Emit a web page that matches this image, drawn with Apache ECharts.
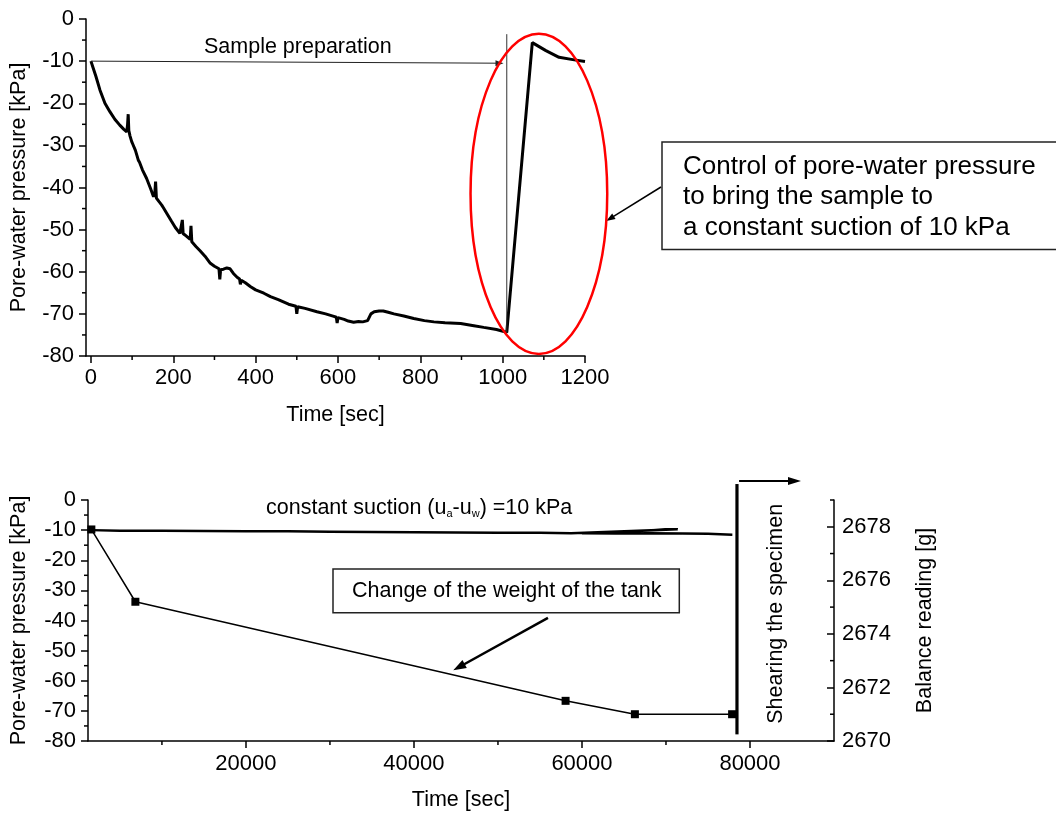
<!DOCTYPE html>
<html><head><meta charset="utf-8">
<script src="https://cdn.jsdelivr.net/npm/echarts@6/dist/echarts.min.js"></script>
<style>html,body{margin:0;padding:0;background:#fff}#c{width:1056px;height:817px}</style>
</head><body><div id="c"></div>
<script>
// ---------- data ----------
const prepTime = [0,5,12,22,34,46,58,70,80,87,
  89,90.5,92,95,99,102,105,108,112,115,
  118,125,135,145,152,155,157,159,165,172,
  176,184,195,205,216,219,222,224,229,233,
  241,243,245,255,265,277,290,300,311,313,
  315,322,330,338,346,355,361,363,365,375,
  387,400,420,436,455,480,498,500,502,520,
  549,570,590,596,598,600,615,625,638,650,
  660,672,676,680,688,700,710,722,736,760,
  784,810,833,860,898,930,954,985,1010,1072,
  1105,1137,1174,1200];
const prepPressure = [-10.0,-11.5,-13.6,-16.9,-20.0,-22.0,-23.8,-25.2,-26.2,-26.8,
  -25.0,-22.6,-26.5,-27.8,-29.1,-29.8,-29.5,-31.2,-32.5,-33.5,
  -34.0,-35.8,-37.8,-40.3,-42.2,-41.5,-38.6,-42.5,-43.3,-44.2,
  -44.8,-46.1,-47.9,-49.5,-50.9,-51.2,-47.7,-51.0,-51.3,-51.7,
  -52.3,-49.1,-52.9,-54.0,-55.0,-56.3,-58.0,-58.7,-59.3,-61.8,
  -59.5,-59.4,-59.1,-59.3,-60.4,-61.3,-61.7,-63.0,-62.0,-62.6,
  -63.5,-64.3,-65.1,-65.9,-66.6,-67.7,-68.2,-70.0,-68.3,-68.7,
  -69.5,-70.0,-70.6,-70.8,-72.2,-70.9,-71.3,-71.7,-72.0,-71.8,
  -71.9,-71.6,-71.2,-70.0,-69.5,-69.3,-69.3,-69.6,-70.0,-70.5,
  -71.1,-71.6,-71.9,-72.1,-72.3,-72.8,-73.2,-73.7,-74.4,-5.6,
  -7.5,-9.1,-9.7,-10.1];

const suctionTime = [1600,5000,10000,15000,20000,25000,30000,35000,40000,45000,
  50000,55000,58700,71400,60000,64000,68000,72000,75000,77900];
const suctionPressure = [-10.0,-10.2,-10.2,-10.3,-10.4,-10.4,-10.5,-10.6,-10.7,-10.8,
  -10.9,-10.9,-11.0,-9.7,-11.0,-11.1,-11.0,-11.1,-11.2,-11.5];

const balanceTime = [1600,6840,58050,66300,77870];
const balanceReading = [2677.9,2675.2,2671.5,2671.0,2671.0];

const topTimeTicks = [0,200,400,600,800,1000,1200];
const topTimeMinor = [100,300,500,700,900,1100];
const pressureMinor = [-75,-65,-55,-45,-35,-25,-15,-5];
const bottomTimeTicks = [20000,40000,60000,80000];
const bottomTimeMinor = [10000,30000,50000,70000];
const balanceTicks = [2670,2672,2674,2676,2678];
const balanceMinor = [2671,2673,2675,2677,2679];

// ---------- chart ----------
const FONT = "'Liberation Sans', Arial, sans-serif";
const BLK = '#000';
const zip = (a, b) => a.map((v, i) => [v, b[i]]);
const chart = echarts.init(document.getElementById('c'), null, {renderer: 'canvas'});

const lab = (extra) => Object.assign({color: BLK, fontSize: 22, fontFamily: FONT, formatter: v => String(v)}, extra);
const axLine = {show: true, onZero: false, lineStyle: {color: BLK, width: 1.5}};
const tick = (extra) => Object.assign({show: true, length: 7, lineStyle: {color: BLK, width: 1.5}}, extra);
const nameStyle = {color: BLK, fontSize: 21.5, fontFamily: FONT};

const topX = {gridIndex: 0, type: 'value', position: 'bottom', min: -12, max: 1200,
  axisLine: axLine, axisTick: tick({customValues: topTimeTicks}),
  axisLabel: lab({customValues: topTimeTicks, margin: 11}), splitLine: {show: false},
  name: 'Time [sec]', nameLocation: 'middle', nameGap: 48, nameTextStyle: nameStyle};
const topY = {gridIndex: 0, type: 'value', position: 'left', min: -80, max: 0, interval: 10,
  axisLine: axLine, axisTick: tick({}), axisLabel: lab({margin: 12}), splitLine: {show: false},
  name: 'Pore-water pressure [kPa]', nameLocation: 'middle', nameGap: 56, nameTextStyle: nameStyle};
const botX = {gridIndex: 1, type: 'value', position: 'bottom', min: 1200, max: 90000,
  axisLine: axLine, axisTick: tick({customValues: bottomTimeTicks}),
  axisLabel: lab({customValues: bottomTimeTicks, margin: 12}), splitLine: {show: false},
  name: 'Time [sec]', nameLocation: 'middle', nameGap: 48, nameTextStyle: nameStyle};
const botY = {gridIndex: 1, type: 'value', position: 'left', min: -80, max: 0, interval: 10,
  axisLine: axLine, axisTick: tick({}), axisLabel: lab({margin: 12}), splitLine: {show: false},
  name: 'Pore-water pressure [kPa]', nameLocation: 'middle', nameGap: 58, nameTextStyle: nameStyle};
const botR = {gridIndex: 1, type: 'value', position: 'right', min: 2670, max: 2679,
  axisLine: axLine, axisTick: tick({customValues: balanceTicks, inside: true}),
  axisLabel: lab({customValues: balanceTicks, margin: 8}), splitLine: {show: false},
  name: 'Balance reading [g]', nameLocation: 'middle', nameGap: 80, nameTextStyle: nameStyle};

const option = {
  animation: false,
  backgroundColor: '#fff',
  grid: [
    {left: 86, top: 19, width: 499, height: 337, containLabel: false, show: false},
    {left: 86, top: 500, width: 748, height: 241, containLabel: false, show: false}
  ],
  xAxis: [topX, botX],
  yAxis: [topY, botY, botR],
  series: [
    {type: 'line', xAxisIndex: 0, yAxisIndex: 0, data: zip(prepTime, prepPressure),
     symbol: 'none', lineStyle: {color: BLK, width: 3}, z: 5},
    {type: 'line', xAxisIndex: 1, yAxisIndex: 1, data: zip(suctionTime, suctionPressure),
     symbol: 'none', lineStyle: {color: BLK, width: 2.5}, z: 5},
    {type: 'line', xAxisIndex: 1, yAxisIndex: 2, data: zip(balanceTime, balanceReading),
     symbol: 'rect', symbolSize: 8, showSymbol: true, itemStyle: {color: BLK},
     lineStyle: {color: BLK, width: 1.5}, z: 6}
  ]
};
chart.setOption(option);

// ---------- annotations ----------
const P = (si, x, y) => chart.convertToPixel({seriesIndex: si}, [x, y]);
const g = [];
function seg(p0, p1, w, color) {
  return {type: 'line', z: 100, shape: {x1: p0[0], y1: p0[1], x2: p1[0], y2: p1[1]},
          style: {stroke: color || BLK, lineWidth: w}};
}
function head(p0, p1, len, half, color) {
  const dx = p1[0]-p0[0], dy = p1[1]-p0[1], L = Math.hypot(dx, dy);
  const ux = dx/L, uy = dy/L, nx = -uy, ny = ux;
  const bx = p1[0]-ux*len, by = p1[1]-uy*len;
  return {type: 'polygon', z: 100, shape: {points: [p1, [bx+nx*half, by+ny*half], [bx-nx*half, by-ny*half]]},
          style: {fill: color || BLK}};
}
function arrow(p0, p1, w, len, half, color) {
  const dx = p1[0]-p0[0], dy = p1[1]-p0[1], L = Math.hypot(dx, dy);
  const e = [p1[0]-dx/L*len*0.8, p1[1]-dy/L*len*0.8];
  return [seg(p0, e, w, color), head(p0, p1, len, half, color)];
}
function txt(x, y, text, size, extra) {
  return {type: 'text', z: 100, x: x, y: y,
    style: Object.assign({text: text, fill: BLK, fontSize: size, fontFamily: FONT,
      align: 'left', verticalAlign: 'middle', textAlign: 'left', textVerticalAlign: 'middle'}, (extra || {}))};
}

// minor ticks (short), placed through the axes' own scales
const TL = 4;
topTimeMinor.forEach(v => { const p = P(0, v, -80); g.push(seg([p[0], p[1]], [p[0], p[1] + TL], 1.5)); });
pressureMinor.forEach(v => { const p = P(0, -12, v); g.push(seg([p[0], p[1]], [p[0] - TL, p[1]], 1.5)); });
bottomTimeMinor.forEach(v => { const p = P(1, v, -80); g.push(seg([p[0], p[1]], [p[0], p[1] + TL], 1.5)); });
pressureMinor.forEach(v => { const p = P(1, 1200, v); g.push(seg([p[0], p[1]], [p[0] - TL, p[1]], 1.5)); });
balanceMinor.forEach(v => { const p = P(2, 90000, v); g.push(seg([p[0], p[1]], [p[0] - TL, p[1]], 1.5)); });

// top chart
const a0 = P(0, 0, -10), a1 = P(0, 1002, -10.5);
g.push(...arrow(a0, a1, 1, 8, 3, '#222'));
g.push(txt(204, 47.5, 'Sample preparation', 21.5));
g.push(seg(P(0, 1010, -3.6), P(0, 1010, -74.4), 1, '#333'));
const ec = P(0, 1088, -41.5), ex = P(0, 1088 + 166, -41.5), ey = P(0, 1088, -41.5 + 38);
const rx = ex[0] - ec[0], ry = ec[1] - ey[1];
g.push({type: 'ellipse', z: 101, shape: {cx: ec[0], cy: ec[1], rx: rx, ry: ry},
        style: {fill: 'none', stroke: '#f00', lineWidth: 2.5}});
g.push({type: 'rect', z: 100, shape: {x: 662, y: 142, width: 420, height: 107.5},
        style: {fill: 'none', stroke: '#222', lineWidth: 1.5}});
g.push(txt(683, 166.5, 'Control of pore-water pressure', 26));
g.push(txt(683, 196.5, 'to bring the sample to', 26));
g.push(txt(683, 227.5, 'a constant suction of 10 kPa', 26));
const tipY = 221, dyE = tipY - ec[1];
const tip = [ec[0] + rx * Math.sqrt(1 - (dyE/ry)*(dyE/ry)), tipY];
g.push(...arrow([661, 187], tip, 1.5, 9, 3.2));

// bottom chart
g.push({type: 'text', z: 100, x: 266, y: 507.5, style: {
  text: '{n|constant suction (u}{s|a}{n|-u}{s|w}{n|) =10 kPa}',
  fill: BLK, fontFamily: FONT, fontSize: 21.5, align: 'left', verticalAlign: 'middle',
  textAlign: 'left', textVerticalAlign: 'middle',
  rich: {n: {fontSize: 21.5, lineHeight: 24, verticalAlign: 'bottom', fontFamily: FONT, fill: BLK, color: BLK},
         s: {fontSize: 11, lineHeight: 15, verticalAlign: 'bottom', fontFamily: FONT, fill: BLK, color: BLK}}
}});
g.push({type: 'rect', z: 100, shape: {x: 333, y: 569, width: 346.3, height: 43.7},
        style: {fill: '#fff', stroke: '#222', lineWidth: 1.5}});
g.push(txt(352, 591, 'Change of the weight of the tank', 21.5));
g.push(...arrow(P(2, 55950, 2674.6), P(2, 44680, 2672.64), 2.5, 13, 4.5));
g.push(seg(P(1, 78450, 5.3), P(1, 78450, -77.8), 3.2));
g.push(...arrow(P(1, 78700, 6.3), P(1, 86070, 6.3), 2, 13, 4));
g.push({type: 'text', z: 100, x: 776, y: 613.8, rotation: Math.PI / 2, style: {
  text: 'Shearing the specimen', fill: BLK, fontSize: 21.5, fontFamily: FONT,
  align: 'center', verticalAlign: 'middle', textAlign: 'center', textVerticalAlign: 'middle'}});

chart.setOption({graphic: {elements: g}});
</script>
</body></html>
